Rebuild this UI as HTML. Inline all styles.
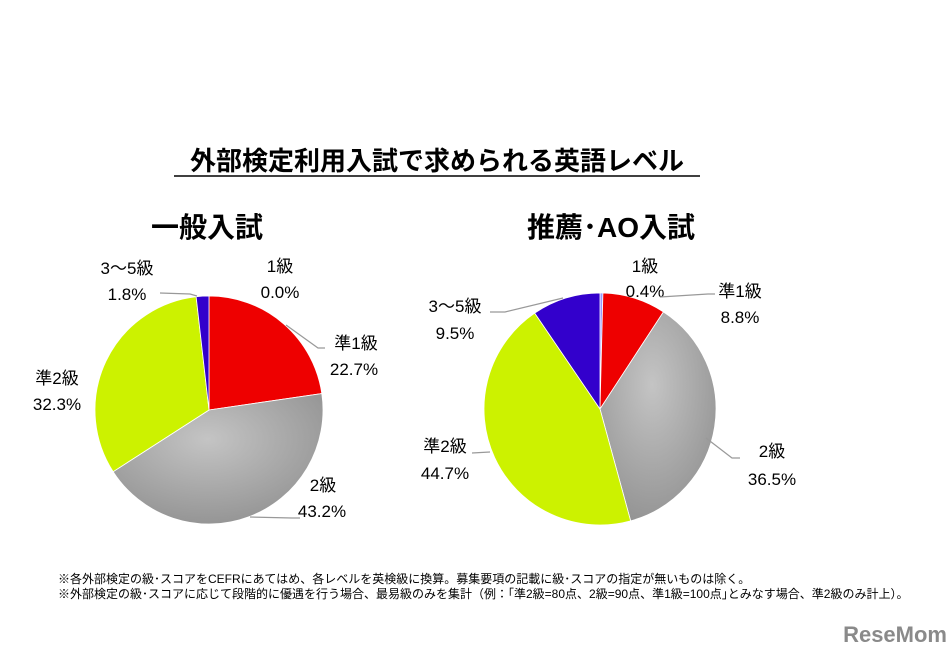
<!DOCTYPE html>
<html><head><meta charset="utf-8">
<style>
body{margin:0;width:952px;height:655px;background:#fff;overflow:hidden;font-family:"Liberation Sans","Noto Sans CJK JP",sans-serif;}
svg text{font-family:"Liberation Sans","Noto Sans CJK JP",sans-serif;}
</style></head>
<body>
<svg width="952" height="655">
<defs>
<radialGradient id="gray" cx="45%" cy="35%" r="75%"><stop offset="0" stop-color="#c4c4c4"/><stop offset="1" stop-color="#8e8e8e"/></radialGradient>
</defs>
<text x="437" y="170" text-anchor="middle" font-size="26" font-weight="bold">外部検定利用入試で求められる英語レベル</text>
<line x1="174" y1="176" x2="700" y2="176" stroke="#000" stroke-width="1.5"/>
<text x="207" y="237" text-anchor="middle" font-size="28" font-weight="bold">一般入試</text>
<text x="611" y="237" text-anchor="middle" font-size="28" font-weight="bold">推薦･AO入試</text>
<g id="pies"></g>
<g font-size="17" text-anchor="middle" fill="#000">
<text x="280" y="272">1級</text><text x="280" y="298">0.0%</text>
<text x="356" y="349">準1級</text><text x="354" y="375">22.7%</text>
<text x="323" y="491">2級</text><text x="322" y="517">43.2%</text>
<text x="57" y="384">準2級</text><text x="57" y="410">32.3%</text>
<text x="127" y="274">3～5級</text><text x="127" y="300">1.8%</text>
<text x="645" y="272">1級</text><text x="645" y="297">0.4%</text>
<text x="740" y="297">準1級</text><text x="740" y="323">8.8%</text>
<text x="772" y="457">2級</text><text x="772" y="485">36.5%</text>
<text x="445" y="452">準2級</text><text x="445" y="479">44.7%</text>
<text x="455" y="312">3～5級</text><text x="455" y="339">9.5%</text>
</g>
<g stroke="#999" fill="none" stroke-width="1.2">
<polyline points="160,293 190,294 197,296"/>
<polyline points="286,325 318,348 325,348"/>
<polyline points="250,517 292,518 300,518"/>
<polyline points="660,297 708,294 715,294"/>
<polyline points="706,438 732,458 740,458"/>
<polyline points="490,312 505,312 563,298"/>
<polyline points="472,453 490,452"/>
</g>
<text x="58" y="583" font-size="12">※各外部検定の級･スコアをCEFRにあてはめ、各レベルを英検級に換算。募集要項の記載に級･スコアの指定が無いものは除く。</text>
<text x="58" y="598" font-size="12">※外部検定の級･スコアに応じて段階的に優遇を行う場合、最易級のみを集計（例：｢準2級=80点、2級=90点、準1級=100点｣とみなす場合、準2級のみ計上）。</text>
<text x="947" y="642" text-anchor="end" font-size="22" font-weight="bold" fill="#8a8a8a">ReseMom</text>
</svg>
<script>
const categories=["1級","準1級","2級","準2級","3～5級"];
const generalValues=[0.0,22.7,43.2,32.3,1.8];
const recommendValues=[0.4,8.8,36.5,44.7,9.5];
const colors=["#9999ff","#ee0000","url(#gray)","#ccf200","#3300cc"];
const NS="http://www.w3.org/2000/svg";
function drawPie(vals,cx,cy,r,prefix){
  const g=document.getElementById('pies');
  const total=vals.reduce((a,b)=>a+b,0);
  let a=0;
  vals.forEach((v,i)=>{
    if(v<=0)return;
    const a0=a/total*2*Math.PI, a1=(a+v)/total*2*Math.PI; a+=v;
    const x0=cx+r*Math.sin(a0),y0=cy-r*Math.cos(a0),x1=cx+r*Math.sin(a1),y1=cy-r*Math.cos(a1);
    const p=document.createElementNS(NS,'path');
    p.setAttribute('d',`M${cx},${cy}L${x0},${y0}A${r},${r} 0 ${(a1-a0)>Math.PI?1:0} 1 ${x1},${y1}Z`);
    p.setAttribute('fill',colors[i]);
    p.setAttribute('stroke','#fff');p.setAttribute('stroke-width','0.8');
    
    
    g.appendChild(p);
  });
}
drawPie(generalValues,209,410,114,'general');
drawPie(recommendValues,600,409,116,'recommend');
</script>
</body></html>
